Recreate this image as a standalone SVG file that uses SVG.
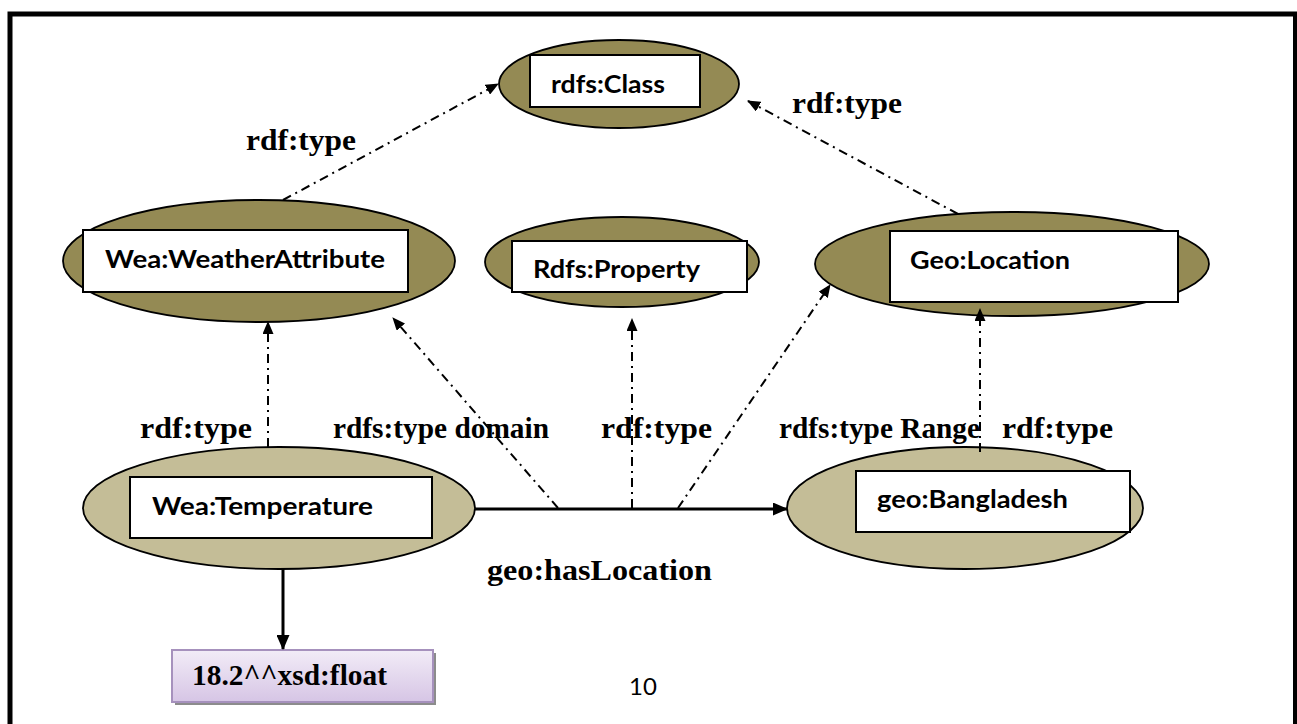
<svg xmlns="http://www.w3.org/2000/svg" width="1297" height="724" viewBox="0 0 1297 724">
<defs>
<style>
.dark{fill:#948a54;stroke:#000;stroke-width:1.8}
.light{fill:#c4bd97;stroke:#000;stroke-width:1.8}
.box{fill:#fff;stroke:#000;stroke-width:2}
.nt{font-family:Lato,"Noto Sans","Liberation Sans",sans-serif;font-weight:bold;font-size:25px;fill:#000}
.lb{font-family:"Liberation Serif","Times New Roman",serif;font-weight:bold;font-size:30px;fill:#000}
.dd{fill:none;stroke:#000;stroke-width:2;stroke-dasharray:9 5 2 5;marker-end:url(#ah)}
.sl{fill:none;stroke:#000;stroke-width:3;marker-end:url(#ahs)}
</style>
<marker id="ah" markerUnits="userSpaceOnUse" markerWidth="13" markerHeight="11" refX="12" refY="5.5" orient="auto">
<path d="M0,0 L13,5.5 L0,11 z" fill="#000"/>
</marker>
<marker id="ahs" markerUnits="userSpaceOnUse" markerWidth="15" markerHeight="13" refX="14" refY="6.5" orient="auto">
<path d="M0,0 L15,6.5 L0,13 z" fill="#000"/>
</marker>
<linearGradient id="lav" x1="0" y1="0" x2="0" y2="1">
<stop offset="0" stop-color="#f2ecf7"/>
<stop offset="1" stop-color="#d6c5e5"/>
</linearGradient>
</defs>
<rect width="1297" height="724" fill="#fff"/>
<path d="M10,724 V14 H1295.5 V724" fill="none" stroke="#000" stroke-width="5"/>
<path d="M1295.5,14 V724" fill="none" stroke="#000" stroke-width="2"/>

<g id="node-rdfs-class">
<ellipse class="dark" cx="619" cy="84" rx="120" ry="44"/>
<rect class="box" x="530" y="55" width="170" height="52"/>
<text class="nt" x="551" y="93" textLength="114" lengthAdjust="spacingAndGlyphs">rdfs:Class</text>
</g>
<g id="node-weather-attribute">
<ellipse class="dark" cx="259" cy="261" rx="196" ry="61"/>
<rect class="box" x="83" y="230" width="325" height="62"/>
<text class="nt" x="105" y="268" textLength="280" lengthAdjust="spacingAndGlyphs">Wea:WeatherAttribute</text>
</g>
<g id="node-rdfs-property">
<ellipse class="dark" cx="622" cy="262" rx="137" ry="45"/>
<rect class="box" x="512" y="241" width="235" height="51"/>
<text class="nt" x="533" y="278" textLength="167" lengthAdjust="spacingAndGlyphs">Rdfs:Property</text>
</g>
<g id="node-geo-location">
<ellipse class="dark" cx="1012" cy="264" rx="197" ry="52"/>
<rect class="box" x="890" y="231" width="288" height="71"/>
<text class="nt" x="910" y="269" textLength="160" lengthAdjust="spacingAndGlyphs">Geo:Location</text>
</g>
<g id="node-temperature">
<ellipse class="light" cx="279" cy="508" rx="196" ry="61"/>
<rect class="box" x="130" y="477" width="302" height="61"/>
<text class="nt" x="152" y="515" textLength="221" lengthAdjust="spacingAndGlyphs">Wea:Temperature</text>
</g>
<g id="node-bangladesh">
<ellipse class="light" cx="965" cy="508" rx="178" ry="61"/>
<rect class="box" x="856" y="471" width="274" height="61"/>
<text class="nt" x="877" y="508" textLength="191" lengthAdjust="spacingAndGlyphs">geo:Bangladesh</text>
</g>
<g id="node-float">
<rect x="175" y="653" width="261" height="52" fill="#8c8c8c"/>
<rect x="172" y="650" width="261" height="52" fill="url(#lav)" stroke="#a691bd" stroke-width="2"/>
<text class="lb" x="192" y="685" textLength="195" lengthAdjust="spacingAndGlyphs">18.2^^xsd:float</text>
</g>

<g id="connectors">
<line class="dd" x1="283" y1="200" x2="498" y2="84"/>
<line class="dd" x1="958" y1="214" x2="748" y2="101"/>
<line class="dd" x1="268" y1="447" x2="268" y2="322"/>
<line class="dd" x1="558" y1="508" x2="393" y2="318"/>
<line class="dd" x1="632" y1="508" x2="632" y2="319"/>
<line class="dd" x1="678" y1="508" x2="830" y2="285"/>
<line class="dd" x1="980" y1="452" x2="980" y2="309"/>
<line class="sl" x1="475" y1="509" x2="787" y2="509"/>
<line class="sl" x1="283" y1="569" x2="283" y2="649"/>
</g>

<g id="labels">
<text class="lb" x="246" y="150" textLength="110" lengthAdjust="spacingAndGlyphs">rdf:type</text>
<text class="lb" x="792" y="113" textLength="110" lengthAdjust="spacingAndGlyphs">rdf:type</text>
<text class="lb" x="140" y="438" textLength="112" lengthAdjust="spacingAndGlyphs">rdf:type</text>
<text class="lb" x="333" y="438" textLength="216" lengthAdjust="spacingAndGlyphs">rdfs:type domain</text>
<text class="lb" x="601" y="438" textLength="111" lengthAdjust="spacingAndGlyphs">rdf:type</text>
<text class="lb" x="779" y="438" textLength="201" lengthAdjust="spacingAndGlyphs">rdfs:type Range</text>
<text class="lb" x="1002" y="438" textLength="111" lengthAdjust="spacingAndGlyphs">rdf:type</text>
<text class="lb" x="487" y="580" textLength="225" lengthAdjust="spacingAndGlyphs">geo:hasLocation</text>
<text x="629" y="695" font-family="Lato,'Liberation Sans',sans-serif" font-size="24" fill="#000">10</text>
</g>
</svg>
